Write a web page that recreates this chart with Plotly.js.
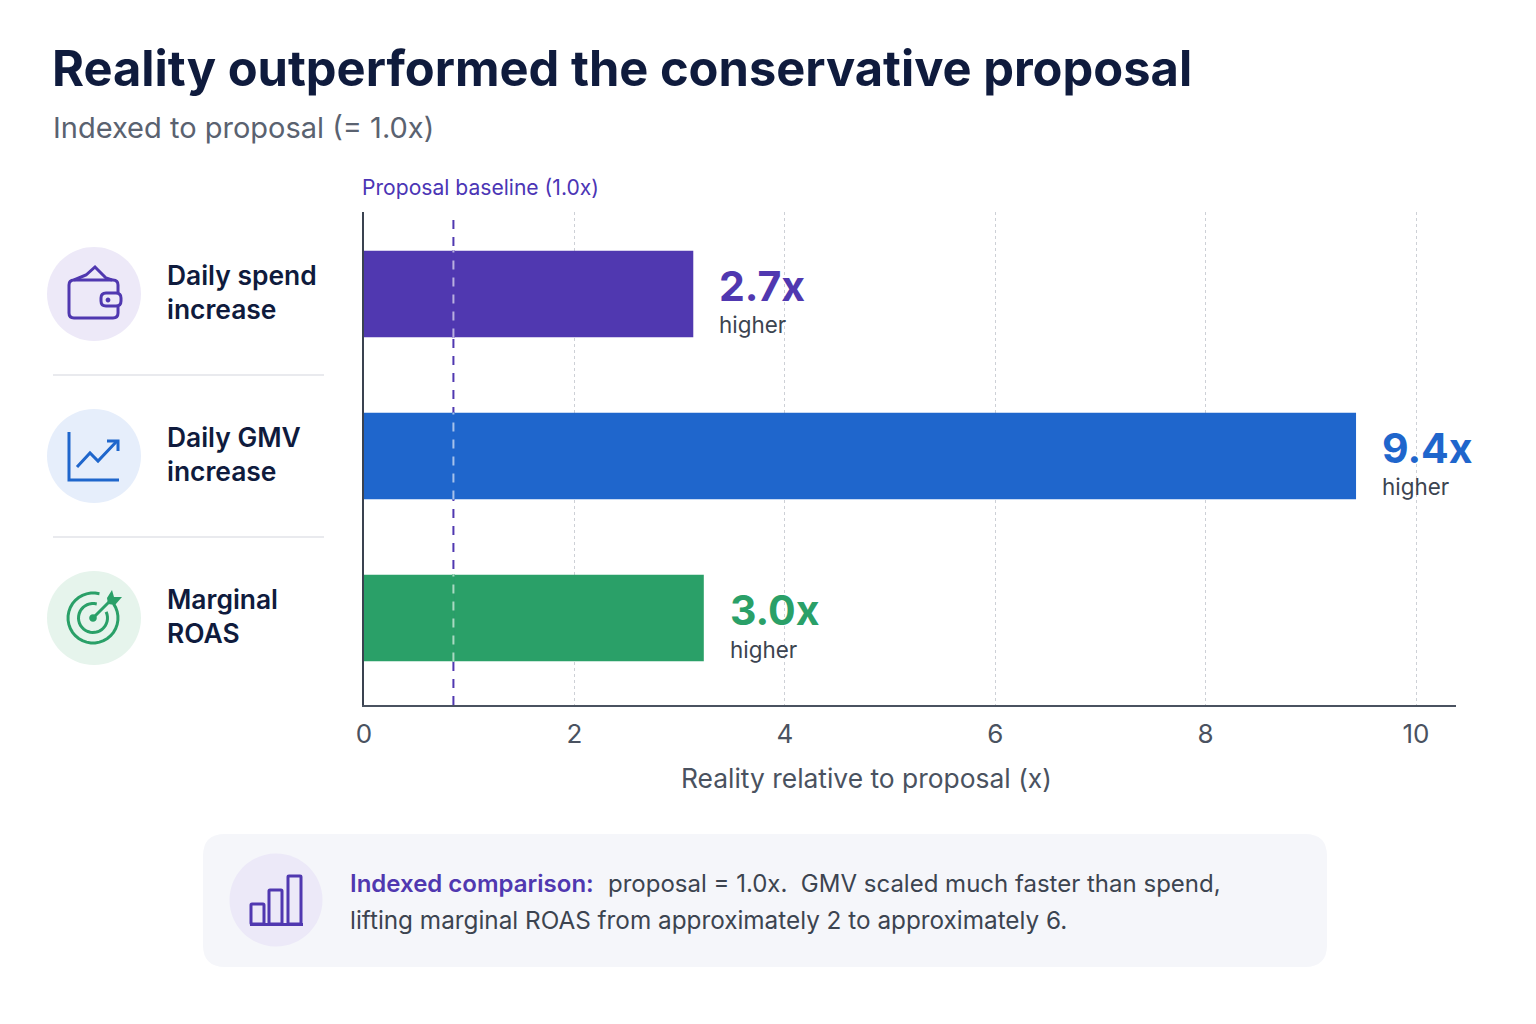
<!DOCTYPE html>
<html><head><meta charset="utf-8">
<script src="https://cdn.plot.ly/plotly-3.0.1.min.js"></script>
<style>html,body{margin:0;padding:0;background:#fff}#c{width:1536px;height:1024px}</style>
</head><body><div id="c"></div>
<script>
const categories = ["Daily spend increase", "Daily GMV increase", "Marginal ROAS"];
const categoryLines = ["Daily spend<br>increase", "Daily GMV<br>increase", "Marginal<br>ROAS"];
const barValues = [3.13, 9.43, 3.23];
const valueLabels = ["2.7x", "9.4x", "3.0x"];
const barColors = ["#5038B0", "#1F66CC", "#2AA068"];
const circleColors = ["#EDE9F8", "#E6EEFB", "#E6F4EC"];
const baselineValue = 0.85;
const tickValues = [0, 2, 4, 6, 8, 10];

const FONT = "Inter, sans-serif";
const L = 364, R = 1456, T = 212, B = 705;
const pxX = x => (x - L) / (R - L);
const pxY = y => (B - y) / (B - T);
// translate a pixel-space path ("M x y L x y ...") into paper coordinates
const P = d => d.replace(/(-?[\d.]+)[ ,](-?[\d.]+)/g, (m, a, b) => pxX(+a).toFixed(5) + " " + pxY(+b).toFixed(5));
const paperShape = (d, o) => Object.assign({type: "path", xref: "paper", yref: "paper", path: P(d), layer: "above",
  line: {width: 0}}, o);
const K = 0.5523;
const circleD = (cx, cy, r) => {
  const k = r * K;
  return `M ${cx - r} ${cy} C ${cx - r} ${cy - k} ${cx - k} ${cy - r} ${cx} ${cy - r} C ${cx + k} ${cy - r} ${cx + r} ${cy - k} ${cx + r} ${cy} C ${cx + r} ${cy + k} ${cx + k} ${cy + r} ${cx} ${cy + r} C ${cx - k} ${cy + r} ${cx - r} ${cy + k} ${cx - r} ${cy} Z`;
};
const rrD = (x0, y0, x1, y1, r) => `M ${x0 + r} ${y0} L ${x1 - r} ${y0} Q ${x1} ${y0} ${x1} ${y0 + r} L ${x1} ${y1 - r} Q ${x1} ${y1} ${x1 - r} ${y1} L ${x0 + r} ${y1} Q ${x0} ${y1} ${x0} ${y1 - r} L ${x0} ${y0 + r} Q ${x0} ${y0} ${x0 + r} ${y0} Z`;
const arcD = (cx, cy, r, a0, a1) => {
  let s = "";
  for (let i = 0; i <= 32; i++) {
    const a = (a0 + (a1 - a0) * i / 32) * Math.PI / 180;
    s += (i ? " L " : "M ") + (cx + r * Math.cos(a)).toFixed(2) + " " + (cy + r * Math.sin(a)).toFixed(2);
  }
  return s;
};
const stroke = (d, color, w) => paperShape(d, {line: {color, width: w || 3}, fillcolor: "rgba(0,0,0,0)"});
const fill = (d, color, layer) => paperShape(d, {fillcolor: color, layer: layer || "above"});

const rowY = [294, 456, 618];
const shapes = [];
// card + dividers
shapes.push(fill(rrD(203, 834, 1327, 967, 22), "#F5F6FA", "below"));
[375, 537].forEach(y => shapes.push(paperShape(`M 53 ${y} L 324 ${y}`, {line: {color: "#E2E3E9", width: 1.5}})));
// icon discs
rowY.forEach((y, i) => shapes.push(fill(circleD(94, y, 47), circleColors[i])));
shapes.push(fill(circleD(276, 900, 46.5), "#ECE9F8"));
// wallet
const pu = barColors[0], bl = barColors[1], gr = barColors[2];
shapes.push(stroke(rrD(69, 280, 118, 318, 5), pu));
shapes.push(fill(rrD(101, 293, 121, 306, 5), circleColors[0]));
shapes.push(stroke(rrD(101, 293, 121, 306, 5), pu));
shapes.push(fill(circleD(108, 300, 2.4), pu));
shapes.push(stroke("M 74 280 L 86 275 L 95 267 L 106 278 L 112 280", pu));
// line chart
shapes.push(stroke("M 69 432 L 69 480 L 119 480", bl));
shapes.push(stroke("M 77 467 L 90 453 L 98 461 L 117 441", bl));
shapes.push(stroke("M 107 441 L 118 441 L 118 451", bl));
// target
shapes.push(stroke(arcD(93, 618, 25, -35, 285), gr));
shapes.push(stroke(arcD(93, 618, 14.5, -25, 285), gr));
shapes.push(fill(circleD(93, 618, 3.8), gr));
shapes.push(stroke("M 93 618 L 112 599", gr));
shapes.push(fill("M 107 598 L 112 590 L 114 597 L 122 597 L 115 605 L 108 604 Z", gr));
// small bars icon
shapes.push(stroke(rrD(251, 904, 264, 924, 1), pu));
shapes.push(stroke(rrD(269, 890, 282, 924, 1), pu));
shapes.push(stroke(rrD(288, 876, 301, 924, 1), pu));
shapes.push(stroke("M 250 924.5 L 303 924.5", pu));
// baseline: purple dashes on white, pale dashes on each bar
shapes.push({type: "line", xref: "x", yref: "paper", x0: baselineValue, x1: baselineValue, y0: 0, y1: 1,
  line: {color: pu, width: 2, dash: "9px,8px"}, layer: "above"});
categories.forEach((c, i) => shapes.push({type: "line", xref: "x", yref: "paper", x0: baselineValue, x1: baselineValue,
  y0: pxY(rowY[i] + 43.5), y1: pxY(rowY[i] - 43.5), line: {color: barColors[i], width: 3}, layer: "above"}));
categories.forEach((c, i) => shapes.push({type: "line", xref: "x", yref: "paper", x0: baselineValue, x1: baselineValue,
  y0: pxY(rowY[i] + 43.5), y1: pxY(rowY[i] - 43.5),
  line: {color: "rgba(255,255,255,0.6)", width: 2, dash: "9px,8px"}, layer: "above"}));

const note = (x, y, text, size, color, weight, extra) => Object.assign({
  xref: "paper", yref: "paper", x: pxX(x - 2), y: pxY(y), xanchor: "left", yanchor: "middle", align: "left",
  showarrow: false, text, font: {family: FONT, size, color, weight: weight || 400}}, extra);

const annotations = [
  note(52, 68, "Reality outperformed the conservative proposal", 48.8, "#0F1B3D", 700),
  note(53, 128, "Indexed to proposal (= 1.0x)", 29, "#5A6270", 400),
  note(362, 187, "Proposal baseline (1.0x)", 21.1, "#4B35B5", 400),
  note(868, 778, "Reality relative to proposal (x)", 26.4, "#4A5260", 400, {xanchor: "center", align: "center"}),
  note(350, 883, "Indexed comparison:", 24, pu, 600),
  note(608, 883, "proposal = 1.0x.&nbsp; GMV scaled much faster than spend,", 24, "#3C4450", 400),
  note(350, 920, "lifting marginal ROAS from approximately 2 to approximately 6.", 24.3, "#3C4450", 400)
];
categories.forEach((c, i) => {
  annotations.push(note(167, rowY[i] - 2, categoryLines[i], 26.4, "#0F1B3D", 600));
  const base = {xref: "x", yref: "y", x: barValues[i], y: c, xanchor: "left", yanchor: "middle", align: "left", showarrow: false, xshift: 24};
  annotations.push(Object.assign({}, base, {yshift: 8, text: valueLabels[i], font: {family: FONT, size: 41, color: barColors[i], weight: 700}}));
  annotations.push(Object.assign({}, base, {yshift: -31, text: "higher", font: {family: FONT, size: 22.4, color: "#3C4450"}}));
});

const trace = {type: "bar", orientation: "h", y: categories, x: barValues, width: 0.535,
  marker: {color: barColors, line: {width: 0}}, hoverinfo: "x+y", showlegend: false};

const layout = {
  width: 1536, height: 1024, autosize: false, paper_bgcolor: "#fff", plot_bgcolor: "#fff",
  margin: {l: L, r: 1536 - R, t: T, b: 1024 - B, pad: 0},
  showlegend: false,
  xaxis: {range: [0, (R - L) / 105.2], tickmode: "array", tickvals: tickValues, ticktext: tickValues.map(String),
    showgrid: true, griddash: "dot", gridcolor: "#CDD0D6", gridwidth: 1, zeroline: false,
    showline: true, linecolor: "#4A5260", linewidth: 2, ticks: "outside", ticklen: 5, tickcolor: "rgba(0,0,0,0)", tickangle: 0,
    tickfont: {family: FONT, size: 26, color: "#4A5260"}},
  yaxis: {type: "category", categoryorder: "array", categoryarray: categories, range: [2.537, -0.506],
    showticklabels: false, showgrid: false, zeroline: false, showline: true, linecolor: "#3A4250", linewidth: 2, ticks: ""},
  shapes, annotations, font: {family: FONT}
};
Plotly.newPlot("c", [trace], layout, {displayModeBar: false});
</script></body></html>
